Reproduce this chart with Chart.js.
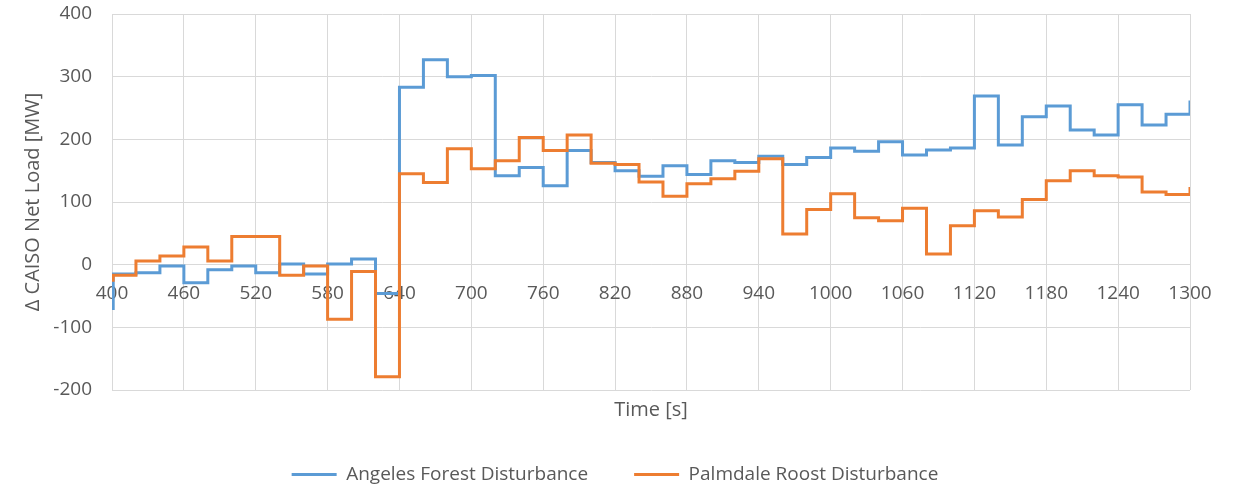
<!DOCTYPE html>
<html>
<head>
<meta charset="utf-8">
<script src="https://cdn.jsdelivr.net/npm/chart.js@4/dist/chart.umd.min.js"></script>
<style>
  html, body { margin: 0; padding: 0; background: #fff; }
  #wrap { width: 1238px; height: 486px; }
</style>
</head>
<body>
<div id="wrap"><canvas id="canvas"></canvas></div>
<script>
// step start times [s]
var timesAngeles = [400, 401, 420, 440, 460, 480, 500, 520, 540, 560, 580, 600, 620,
    640, 660, 680, 700, 720, 740, 760, 780, 800, 820, 840, 860, 880, 900, 920, 940,
    960, 980, 1000, 1020, 1040, 1060, 1080, 1100, 1120, 1140, 1160, 1180, 1200, 1220,
    1240, 1260, 1280, 1300];
var angeles = [-70, -15, -13, -2, -29, -8, -2, -13, 1, -15, 1, 9, -46,
    283, 327, 300, 302, 142, 155, 126, 182, 163, 150, 141, 158, 144, 166, 163, 173,
    160, 171, 186, 181, 196, 175, 183, 186, 269, 191, 236, 253, 215, 207,
    255, 223, 240, 262];

var timesPalmdale = [400, 401, 420, 440, 460, 480, 500, 540, 560, 580, 600, 620,
    640, 660, 680, 700, 720, 740, 760, 780, 800, 820, 840, 860, 880, 900, 920, 940,
    960, 980, 1000, 1020, 1040, 1060, 1080, 1100, 1120, 1140, 1160, 1180, 1200, 1220,
    1240, 1260, 1280, 1300];
var palmdale = [-25, -17, 6, 14, 28, 6, 45, -17, -2, -87, -11, -179,
    145, 131, 185, 153, 166, 203, 182, 207, 162, 160, 132, 109, 129, 137, 149, 169,
    49, 88, 113, 75, 70, 90, 17, 62, 86, 76, 104, 134, 150, 142,
    140, 116, 112, 124];

var seriesNames = ["Angeles Forest Disturbance", "Palmdale Roost Disturbance"];

function toPoints(xs, ys) {
    return xs.map((x, i) => ({ x: x, y: ys[i] }));
}

var textColor = "#595959";
var gridColor = "#d9d9d9";
var fontFamily = "'Open Sans', 'Noto Sans', sans-serif";

var chart = new Chart(document.getElementById("canvas"), {
    type: 'line',
    data: {
        datasets: [{
            label: seriesNames[0],
            data: toPoints(timesAngeles, angeles),
            borderColor: "#5b9bd5",
            backgroundColor: "#5b9bd5",
            borderWidth: 3,
            pointRadius: 0,
            stepped: true,
            order: 1
        }, {
            label: seriesNames[1],
            data: toPoints(timesPalmdale, palmdale),
            borderColor: "#ed7d31",
            backgroundColor: "#ed7d31",
            borderWidth: 3,
            pointRadius: 0,
            stepped: true,
            order: 0
        }]
    },
    options: {
        responsive: true,
        maintainAspectRatio: false,
        animation: false,
        // left padding pushes the legend right; y axis width makes up the rest
        layout: { padding: { top: 14, right: 48, bottom: -8, left: 40 } },
        plugins: {
            tooltip: { enabled: false },
            legend: {
                position: 'bottom',
                labels: {
                    usePointStyle: true,
                    pointStyle: 'line',
                    pointStyleWidth: 45,
                    padding: 46,
                    color: textColor,
                    font: { family: fontFamily, size: 19 },
                    sort: (a, b) => a.datasetIndex - b.datasetIndex
                }
            }
        },
        scales: {
            x: {
                type: 'linear',
                position: { y: 0 },
                min: 400,
                max: 1300,
                afterFit: (scale) => { scale.height = 0; },
                ticks: {
                    stepSize: 60,
                    autoSkip: false,
                    maxRotation: 0,
                    padding: 18,
                    color: textColor,
                    font: { family: fontFamily, size: 19 },
                    callback: (value) => String(value)
                },
                grid: { color: gridColor, drawTicks: false },
                border: { color: gridColor }
            },
            x2: {
                type: 'linear',
                position: 'bottom',
                min: 400,
                max: 1300,
                ticks: { display: false },
                grid: { display: false, drawTicks: false },
                border: { display: false },
                title: {
                    display: true,
                    text: 'Time [s]',
                    color: textColor,
                    font: { family: fontFamily, size: 20 },
                    padding: { top: 8, bottom: -3 }
                }
            },
            y: {
                min: -200,
                max: 400,
                afterFit: (scale) => {
                    scale.width = 72;
                    scale.paddingTop = 0;
                    scale.paddingBottom = 0;
                },
                ticks: {
                    stepSize: 100,
                    padding: 20,
                    color: textColor,
                    font: { family: fontFamily, size: 19 }
                },
                grid: { color: gridColor, drawTicks: false },
                border: { color: gridColor },
                title: {
                    display: true,
                    text: 'Δ CAISO Net Load [MW]',
                    color: textColor,
                    font: { family: fontFamily, size: 20 },
                    padding: { top: -19, bottom: 0 }
                }
            }
        }
    }
});
</script>
</body>
</html>
